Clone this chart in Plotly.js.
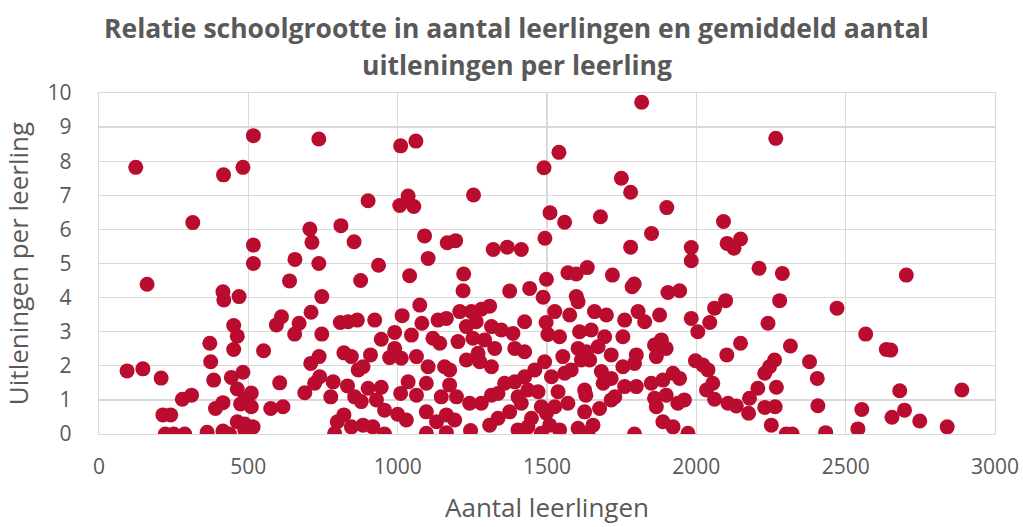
<!DOCTYPE html>
<html>
<head>
<meta charset="utf-8">
<script src="https://cdn.plot.ly/plotly-3.0.1.min.js"></script>
<style>html,body{margin:0;padding:0;background:#fff;}#chart{width:1023px;height:527px;}</style>
</head>
<body>
<div id="chart"></div>
<script>
// Aantal leerlingen (x) and uitleningen per leerling (y)
const leerlingen = [
123,417,482,517,314,517,517,736,1010,901,1007,706,810,713,854,656,736,936,
1061,1490,1035,1054,1254,1510,1090,1166,1194,1493,1320,1367,1414,1102,
1817,1540,1749,1780,1559,1679,1901,1850,1780,1983,1983,1635,2266,2091,2103,2148,2126,2210,
161,415,418,469,451,463,371,451,374,94,147,208,384,443,482,463,279,310,390,415,474,510,
214,240,463,488,222,250,287,362,415,437,
638,876,746,611,594,670,655,710,746,808,834,865,923,1015,551,709,737,820,845,909,945,990,973,
868,884,605,488,510,575,616,689,722,739,784,776,832,856,901,945,929,878,956,1010,1000,
820,798,488,516,789,845,884,917,956,
1040,1221,1219,1375,1442,1498,1487,1074,1081,1046,990,1012,1063,1102,1118,1141,1135,1163,
1208,1247,1280,1308,1230,1263,1314,1347,1386,1425,1497,1202,1252,1291,1325,1392,1425,1269,
1230,1275,1314,1174,1157,1503,1492,1459,1425,1392,1358,1096,1035,1063,1174,1146,1197,1241,
1280,1314,1336,1403,1436,1470,1414,1481,1029,1096,1130,1163,1191,1096,1163,1244,1308,1336,
1375,1403,1436,1448,1481,1498,
1570,1598,1719,1785,1792,1905,1944,1598,1604,1526,1576,1659,1699,1760,1805,1827,1877,1983,
1542,1609,1648,1693,1754,1860,1883,1899,1866,2005,1997,1553,1604,1632,1643,1671,1715,1754,
1799,1793,1515,1559,1581,1615,1682,1715,1688,1626,1630,1537,1526,1570,1626,1676,1715,1727,
1760,1799,1849,1888,1922,1944,1860,1866,1899,1938,1960,1509,1542,1604,1637,1654,1793,1888,
1922,1972,
2288,2098,2061,2045,2279,2471,2240,2148,2102,2315,2379,2405,2022,2039,2262,2245,2229,2055,
2034,2206,2268,2061,2106,2134,2178,2175,2229,2264,2407,2251,2301,2321,2433,
2703,2567,2636,2651,2681,2889,2554,2697,2655,2748,2541,2840
];
const uitleningen = [
7.82,7.6,7.82,8.75,6.2,5.54,5.0,8.65,8.45,6.84,6.7,6.01,6.11,5.62,5.64,5.12,5.0,4.95,
8.59,7.81,6.98,6.67,7.01,6.49,5.81,5.61,5.67,5.74,5.41,5.48,5.41,5.15,
9.73,8.26,7.5,7.09,6.21,6.37,6.64,5.88,5.48,5.47,5.08,4.88,8.67,6.23,5.59,5.72,5.45,4.86,
4.39,4.17,3.93,4.03,3.18,2.87,2.66,2.48,2.12,1.85,1.91,1.64,1.58,1.66,1.81,1.32,1.02,1.14,0.75,0.92,0.88,1.2,
0.56,0.56,0.36,0.12,0,0,0,0.05,0.09,0,
4.49,4.5,4.03,3.44,3.2,3.25,2.93,3.57,2.93,3.27,3.29,3.34,3.34,3.47,2.44,2.07,2.27,2.38,2.27,2.32,2.78,2.98,2.24,
1.88,1.97,1.5,1.0,0.8,0.75,0.8,1.21,1.49,1.68,1.53,1.09,1.41,1.09,1.34,1.37,1.0,0.95,0.7,1.19,0.58,
0.56,0.36,0.29,0.21,0.02,0.21,0.26,0.21,0,
4.64,4.69,4.2,4.19,4.27,4.54,4.01,3.78,3.25,2.9,2.51,2.22,2.27,1.97,2.81,2.66,3.34,3.39,
3.59,3.59,3.66,3.75,3.15,3.29,3.15,3.05,2.95,3.29,3.27,2.71,2.81,2.76,2.51,2.51,2.41,2.37,
2.17,2.12,1.97,1.88,1.97,2.92,2.12,1.88,1.68,1.53,1.49,1.49,1.53,1.14,1.44,1.09,1.09,0.9,
0.9,1.14,1.19,1.09,1.29,1.24,0.9,0.8,0.41,0.65,0.36,0.56,0.41,0.02,0.04,0.1,0.26,0.46,
0.65,0.12,0.21,0.46,0.02,0.61,
4.73,4.69,4.66,4.32,4.4,4.15,4.2,4.03,3.88,3.59,3.49,3.59,3.49,3.34,3.59,3.29,3.49,3.39,
2.85,3.0,3.05,2.85,2.85,2.61,2.76,2.51,2.27,3.0,2.15,2.27,2.51,2.41,2.17,2.56,2.32,1.97,
2.32,2.07,1.68,1.78,1.88,2.17,1.83,1.63,1.49,1.29,1.14,1.24,0.8,0.9,0.65,0.75,1.0,1.09,
1.39,1.39,1.49,1.58,1.78,1.63,1.05,0.8,1.14,0.9,1.0,0.26,0.12,0.17,0.02,0.26,0,0.36,
0.21,0.02,
4.71,3.91,3.69,3.27,3.91,3.69,3.25,2.66,2.32,2.58,2.12,1.63,2.02,1.88,2.17,1.97,1.78,1.49,
1.29,1.34,1.37,1.02,0.9,0.82,1.05,0.61,0.78,0.8,0.83,0.26,0,0,0.04,
4.66,2.93,2.48,2.46,1.27,1.29,0.72,0.7,0.49,0.38,0.15,0.21
];
const titelRegel1 = "Relatie schoolgrootte in aantal leerlingen en gemiddeld aantal";
const titelRegel2 = "uitleningen per leerling";
const xTitel = "Aantal leerlingen";
const yTitel = "Uitleningen per leerling";

const grey = "#595959";
const gridc = "#d9d9d9";
const font = "Open Sans, Noto Sans, sans-serif";

const trace = {
  x: leerlingen, y: uitleningen, type: "scatter", mode: "markers",
  marker: {color: "#BA0C2F", size: 15, line: {width: 0}},
  hoverinfo: "x+y"
};

const layout = {
  width: 1023, height: 527,
  margin: {l: 99, r: 28, t: 93, b: 93, pad: 0},
  paper_bgcolor: "#fff", plot_bgcolor: "#fff",
  font: {family: font, color: grey},
  showlegend: false,
  xaxis: {
    range: [0, 3000], dtick: 500, tick0: 0, autorange: false,
    showgrid: true, gridcolor: gridc, gridwidth: 1.3,
    zeroline: false, showline: true, linecolor: gridc, linewidth: 1.3, mirror: true,
    ticks: "", ticklabelstandoff: 13,
    tickfont: {size: 21, color: grey, family: font},
    title: {text: xTitel, font: {size: 26, color: grey, family: font}, standoff: 20}
  },
  yaxis: {
    range: [0, 10], dtick: 1, tick0: 0, autorange: false,
    showgrid: true, gridcolor: gridc, gridwidth: 1.3,
    zeroline: false, showline: true, linecolor: gridc, linewidth: 1.3, mirror: true,
    ticks: "", ticklabelstandoff: 22,
    tickfont: {size: 21, color: grey, family: font},
    title: {text: yTitel, font: {size: 26, color: grey, family: font}, standoff: 12}
  },
  annotations: [
    {text: "<b>" + titelRegel1 + "</b>", xref: "paper", yref: "paper", x: 0.466, y: (434 - 28) / 341,
     xanchor: "center", yanchor: "middle", showarrow: false, font: {size: 26.5, color: grey, family: font}},
    {text: "<b>" + titelRegel2 + "</b>", xref: "paper", yref: "paper", x: 0.466, y: (434 - 65) / 341,
     xanchor: "center", yanchor: "middle", showarrow: false, font: {size: 26.5, color: grey, family: font}}
  ]
};

Plotly.newPlot("chart", [trace], layout, {displayModeBar: false, staticPlot: true});
</script>
</body>
</html>
